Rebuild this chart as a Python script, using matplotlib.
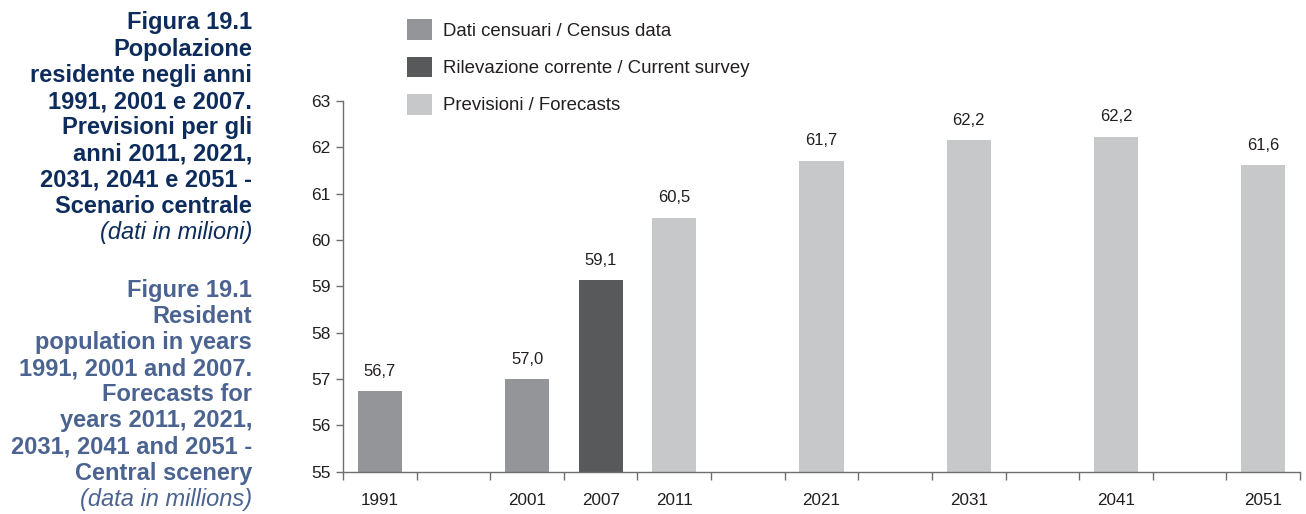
import matplotlib
matplotlib.use("Agg")
import matplotlib.pyplot as plt
import numpy as np
from matplotlib.patches import Patch

# ── Data ─────────────────────────────────────────────────────────────────────
categories = ["1991", "", "2001", "2007", "2011", "", "2021", "", "2031", "", "2041", "", "2051"]
values     = [56.74, None, 57.0, 59.13, 60.48, None, 61.71, None, 62.16, None, 62.23, None, 61.62]
kinds      = ["census", None, "census", "survey", "fc", None, "fc", None, "fc", None, "fc", None, "fc"]

legend_labels = {
    "census": "Dati censuari / Census data",
    "survey": "Rilevazione corrente / Current survey",
    "fc":     "Previsioni / Forecasts",
}

title_it = ["Figura 19.1", "Popolazione", "residente negli anni", "1991, 2001 e 2007.",
            "Previsioni per gli", "anni 2011, 2021,", "2031, 2041 e 2051 -",
            "Scenario centrale"]
note_it = "(dati in milioni)"
title_en = ["Figure 19.1", "Resident", "population in years", "1991, 2001 and 2007.",
            "Forecasts for", "years 2011, 2021,", "2031, 2041 and 2051 -",
            "Central scenery"]
note_en = "(data in millions)"

# ── Style ────────────────────────────────────────────────────────────────────
COLORS = {"census": "#939598", "survey": "#58595b", "fc": "#c7c8ca"}
C_TEXT = "#231f20"
C_AXIS = "#6d6e71"
C_IT   = "#0d2c5c"
C_EN   = "#4b6390"

plt.rcParams["font.family"] = ["Liberation Sans", "DejaVu Sans"]

W, H = 1306, 514
fig = plt.figure(figsize=(W / 100, H / 100), dpi=100)
ax = fig.add_axes([343 / W, 1 - 471.7 / H, (1300 - 343) / W, (471.7 - 101) / H])

x = np.arange(len(categories))
for xi, v, k in zip(x, values, kinds):
    if v is None:
        continue
    ax.bar(xi, v - 55, bottom=55, width=0.6, color=COLORS[k], linewidth=0)
    ax.annotate(f"{v:.1f}".replace(".", ","), (xi, v), xytext=(0, 11),
                textcoords="offset points", ha="center", va="baseline",
                fontsize=12, color=C_TEXT)

ax.set_xlim(-0.5, len(categories) - 0.5)
ax.set_ylim(55, 63)
ax.set_yticks(range(55, 64))
ax.tick_params(axis="y", direction="out", length=5, width=1, color=C_AXIS,
               labelsize=12.5, labelcolor=C_TEXT, pad=4)

# category boundaries as tick marks, labels at centres
ax.set_xticks(np.arange(-0.5, len(categories), 1.0))
ax.set_xticklabels([])
ax.set_xticks(x, minor=True)
ax.set_xticklabels(categories, minor=True)
ax.tick_params(axis="x", which="major", direction="out", length=6, width=1, color=C_AXIS)
ax.tick_params(axis="x", which="minor", length=0, labelsize=12.3, labelcolor=C_TEXT, pad=15)

for s in ["top", "right"]:
    ax.spines[s].set_visible(False)
for s in ["left", "bottom"]:
    ax.spines[s].set_color(C_AXIS)
    ax.spines[s].set_linewidth(1)

handles = [Patch(facecolor=COLORS[k], edgecolor="none") for k in ["census", "survey", "fc"]]
fig.legend(handles, [legend_labels[k] for k in ["census", "survey", "fc"]],
           loc="upper left", bbox_to_anchor=(400 / W, 1 - 12 / H), frameon=False,
           fontsize=13.4, handlelength=1.34, handleheight=1.34, labelspacing=0.88,
           handletextpad=0.55, borderaxespad=0, labelcolor=C_TEXT)

# ── Side titles ──────────────────────────────────────────────────────────────
xr = 252 / W
step = 26.2
for i, line in enumerate(title_it):
    fig.text(xr, 1 - (23 + step * i) / H, line, ha="right", va="center",
             fontsize=17, fontweight="bold", color=C_IT)
fig.text(xr, 1 - (23 + step * 8) / H, note_it, ha="right", va="center",
         fontsize=17, style="italic", color=C_IT)

for i, line in enumerate(title_en):
    fig.text(xr, 1 - (290 + step * i) / H, line, ha="right", va="center",
             fontsize=17, fontweight="bold", color=C_EN)
fig.text(xr, 1 - (290 + step * 8) / H, note_en, ha="right", va="center",
         fontsize=17, style="italic", color=C_EN)

fig.savefig("out.png", dpi=100)
